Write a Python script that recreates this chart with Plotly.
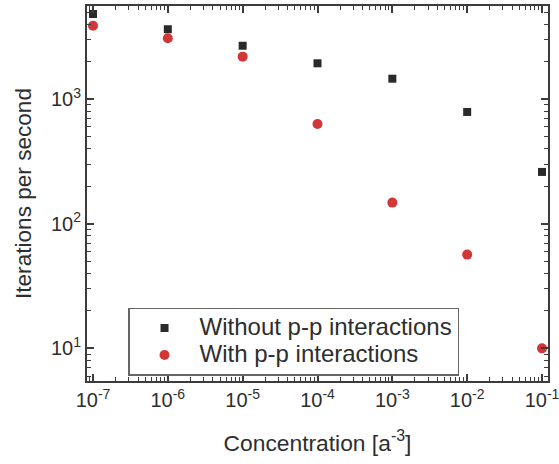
import plotly.graph_objects as go

concentration = [1e-7, 1e-6, 1e-5, 1e-4, 1e-3, 1e-2, 1e-1]
without_pp = [4840, 3650, 2690, 1945, 1463, 791, 261]
with_pp = [3900, 3090, 2200, 634, 148, 56.6, 10]
series_names = ["Without p-p interactions", "With p-p interactions"]

x_tickvals = [1e-7, 1e-6, 1e-5, 1e-4, 1e-3, 1e-2, 1e-1]
x_ticktext = ["10<sup>-7</sup>", "10<sup>-6</sup>", "10<sup>-5</sup>", "10<sup>-4</sup>",
              "10<sup>-3</sup>", "10<sup>-2</sup>", "10<sup>-1</sup>"]
y_tickvals = [10, 100, 1000]
y_ticktext = ["10<sup>1</sup>", "10<sup>2</sup>", "10<sup>3</sup>"]

FONT = "Liberation Sans, Arial, sans-serif"
AX = "#3c3c3c"
TXT = "#2e2e2e"


def big(s):
    return '<span style="font-size:24px">' + s + '</span>'


fig = go.Figure()
fig.add_trace(go.Scatter(x=concentration, y=without_pp, mode="markers",
                         name=big(series_names[0]),
                         marker=dict(symbol="square", size=8, color="#2a2a2a")))
fig.add_trace(go.Scatter(x=concentration, y=with_pp, mode="markers",
                         name=big(series_names[1]),
                         marker=dict(symbol="circle", size=10, color="#d23636")))

axis_common = dict(
    type="log", showgrid=False, zeroline=False, showline=True, linecolor=AX, linewidth=2,
    mirror="allticks", ticks="inside", ticklen=7, tickwidth=1.5, tickcolor=AX,
    tickfont=dict(family=FONT, size=20, color=TXT), ticklabeloverflow="allow",
    automargin=False,
    minor=dict(ticks="inside", ticklen=4, tickwidth=1.2, tickcolor=AX, dtick="D1"),
)

fig.update_xaxes(range=[-7.08, -0.92], tickvals=x_tickvals, ticktext=x_ticktext,
                 title=dict(text="Concentration [a<sup>-3</sup>]", font=dict(family=FONT, size=22.8, color=TXT), standoff=25),
                 **axis_common)
fig.update_yaxes(range=[0.738, 3.749], tickvals=y_tickvals, ticktext=y_ticktext,
                 title=dict(text="Iterations per second", font=dict(family=FONT, size=22.6, color=TXT), standoff=13),
                 **axis_common)

fig.update_layout(
    width=559, height=464,
    margin=dict(l=87, r=11, t=6, b=83),
    paper_bgcolor="white", plot_bgcolor="white",
    font=dict(family=FONT, color=TXT),
    legend=dict(x=0.089, y=0.195, xanchor="left", yanchor="top",
                bgcolor="white", bordercolor="#666", borderwidth=1.5,
                font=dict(family=FONT, size=18.5, color=TXT),
                itemwidth=60, tracegroupgap=0),
    showlegend=True,
)

fig.write_html("out.html")
